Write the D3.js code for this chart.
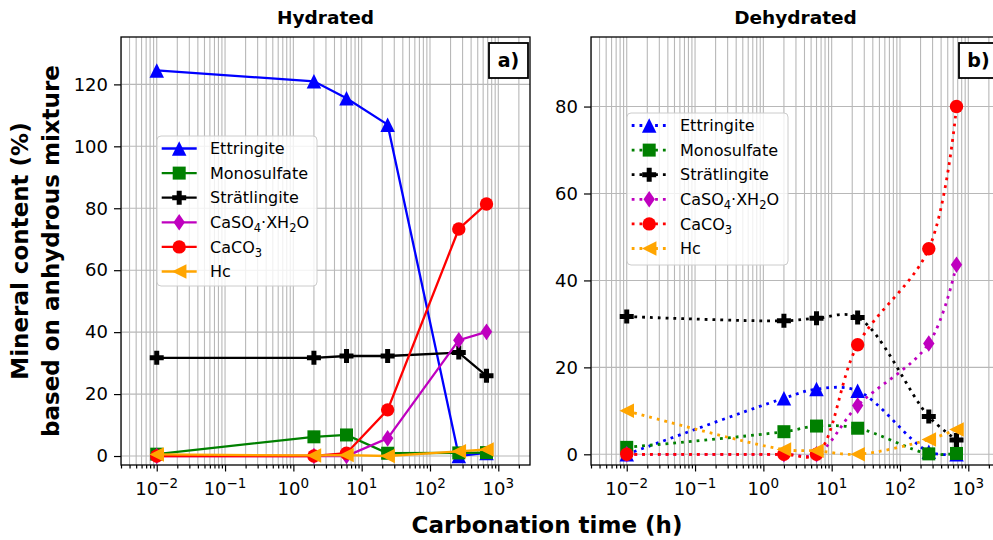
<!DOCTYPE html>
<html><head><meta charset="utf-8">
<script src="https://cdnjs.cloudflare.com/ajax/libs/d3/7.8.5/d3.min.js"></script>
<style>body{margin:0;background:#fff;} svg{display:block;font-family:"DejaVu Sans",sans-serif;}</style>
</head><body><svg id="c" width="993" height="540"></svg>
<script>
// ---------------- data ----------------
const times = [0.01, 2, 6, 24, 264, 672];
const seriesNames = ["Ettringite", "Monosulfate", "Strätlingite", "CaSO4·XH2O", "CaCO3", "Hc"];
const seriesColors = ["#0000ff", "#008000", "#000000", "#bf00bf", "#ff0000", "#ffa500"];
const seriesMarkers = ["triangleUp", "square", "plus", "thinDiamond", "circle", "triangleLeft"];

const hydEttringite   = [124.5, 121.0, 115.5, 107.0, 0.0, 1.0];
const hydMonosulfate  = [0.6, 6.2, 6.8, 0.9, 1.0, 1.1];
const hydStratlingite = [31.7, 31.7, 32.3, 32.3, 33.4, 25.9];
const hydCaSO4        = [0.0, 0.0, 0.0, 5.7, 37.4, 40.1];
const hydCaCO3        = [0.0, 0.0, 0.9, 14.9, 73.3, 81.4];
const hydHc           = [0.5, 0.2, 0.3, 0.0, 1.5, 2.1];

const dehEttringite   = [0.0, 12.9, 15.0, 14.6, 0.6, 0.0];
const dehMonosulfate  = [1.6, 5.2, 6.5, 6.0, 0.1, 0.2];
const dehStratlingite = [31.7, 30.7, 31.3, 31.5, 8.7, 3.3];
const dehCaSO4        = [0.0, 0.0, 0.0, 11.2, 25.5, 43.6];
const dehCaCO3        = [0.0, 0.0, 0.0, 25.2, 47.3, 80.0];
const dehHc           = [10.0, 1.1, 0.8, 0.0, 3.4, 5.7];

const yTicksHyd = [0, 20, 40, 60, 80, 100, 120];
const yTicksDeh = [0, 20, 40, 60, 80];
const xTickExponents = [-2, -1, 0, 1, 2, 3];
const panelTitles = ["Hydrated", "Dehydrated"];
const panelTags = ["a)", "b)"];
const xLabel = "Carbonation time (h)";
const yLabelLines = ["Mineral content (%)", "based on anhydrous mixture"];

// ---------------- layout ----------------
const svg = d3.select("#c");
const TOP = 37, BOTTOM = 465, PW = 409;
const xDomain = [Math.pow(10, -2.523), Math.pow(10, 3.464)];

const panels = [
  {x0: 121, yDomain: [-2.9, 135.3], yTicks: yTicksHyd,
   data: [hydEttringite, hydMonosulfate, hydStratlingite, hydCaSO4, hydCaCO3, hydHc],
   dotted: false, legend: {x: 157, y: 136, w: 160, h: 150}},
  {x0: 591, yDomain: [-2.46, 96], yTicks: yTicksDeh,
   data: [dehEttringite, dehMonosulfate, dehStratlingite, dehCaSO4, dehCaCO3, dehHc],
   dotted: true, legend: {x: 627, y: 113, w: 161, h: 152}}
];

function markerPath(type) {
  switch (type) {
    case "triangleUp": { const s = 14.5; return `M0,${-s/2}L${s/2},${s/2}L${-s/2},${s/2}Z`; }
    case "triangleLeft": { const s = 14.5; return `M${-s/2},0L${s/2},${-s/2}L${s/2},${s/2}Z`; }
    case "square": { const s = 13; return `M${-s/2},${-s/2}h${s}v${s}h${-s}Z`; }
    case "plus": { const a = 7, b = 2.5;
      return `M${-b},${-a}H${b}V${-b}H${a}V${b}H${b}V${a}H${-b}V${b}H${-a}V${-b}H${-b}Z`; }
    case "thinDiamond": return "M0,-8.3L5.7,0L0,8.3L-5.7,0Z";
    case "circle": { const r = 6.7; return `M${r},0A${r},${r} 0 1,1 ${-r},0A${r},${r} 0 1,1 ${r},0Z`; }
  }
}

function richLabel(sel, s) {
  const parts = s.match(/\d+|[^\d]+/g);
  let shifted = false;
  parts.forEach(pt => {
    const isNum = /^\d+$/.test(pt);
    const t = sel.append("tspan").text(pt);
    if (isNum && !shifted) { t.attr("dy", 4).attr("font-size", "11.5px"); shifted = true; }
    else if (!isNum && shifted) { t.attr("dy", -4); shifted = false; }
  });
}

const defs = svg.append("defs");

panels.forEach((p, pi) => {
  const x = d3.scaleLog().domain(xDomain).range([p.x0, p.x0 + PW]);
  const y = d3.scaleLinear().domain(p.yDomain).range([BOTTOM, TOP]);
  const clipId = "clip" + pi;
  defs.append("clipPath").attr("id", clipId).append("rect")
    .attr("x", p.x0).attr("y", TOP).attr("width", PW).attr("height", BOTTOM - TOP);

  const gridX = [];
  for (let e = -3; e <= 3; e++) for (let k = 1; k <= 9; k++) {
    const v = k * Math.pow(10, e);
    if (v >= xDomain[0] && v <= xDomain[1]) gridX.push(v);
  }
  const grid = svg.append("g").attr("clip-path", `url(#${clipId})`);
  grid.selectAll("line.gx").data(gridX).join("line").attr("class", "gx")
    .attr("x1", d => x(d)).attr("x2", d => x(d)).attr("y1", TOP).attr("y2", BOTTOM)
    .attr("stroke", "#b8b8b8").attr("stroke-width", 1.1);
  grid.selectAll("line.gy").data(p.yTicks).join("line").attr("class", "gy")
    .attr("x1", p.x0).attr("x2", p.x0 + PW).attr("y1", d => y(d)).attr("y2", d => y(d))
    .attr("stroke", "#b8b8b8").attr("stroke-width", 1.1);

  const plot = svg.append("g").attr("clip-path", `url(#${clipId})`);
  const line = d3.line().x(d => x(d[0])).y(d => y(d[1]))
    .curve(p.dotted ? d3.curveCatmullRom.alpha(0.5) : d3.curveLinear);
  p.data.forEach((vals, si) => {
    const pts = times.map((t, i) => [t, vals[i]]);
    const path = plot.append("path").attr("d", line(pts)).attr("fill", "none")
      .attr("stroke", seriesColors[si]);
    if (p.dotted) path.attr("stroke-width", 2.8).attr("stroke-dasharray", "2.8,5");
    else path.attr("stroke-width", 2.3);
    plot.selectAll(null).data(pts).join("path")
      .attr("d", markerPath(seriesMarkers[si]))
      .attr("transform", d => `translate(${x(d[0])},${y(d[1])})`)
      .attr("fill", seriesColors[si]);
  });

  svg.append("rect").attr("x", p.x0).attr("y", TOP).attr("width", PW).attr("height", BOTTOM - TOP)
    .attr("fill", "none").attr("stroke", "#000").attr("stroke-width", 1.3);

  const decades = xTickExponents.map(e => Math.pow(10, e));
  const minors = gridX.filter(v => !decades.some(d => Math.abs(d - v) / d < 1e-9));
  const xAxisMajor = d3.axisBottom(x).tickValues(decades).tickSize(6.5).tickSizeOuter(0).tickFormat("");
  const xAxisMinor = d3.axisBottom(x).tickValues(minors).tickSize(3.5).tickSizeOuter(0).tickFormat("");
  [xAxisMajor, xAxisMinor].forEach(ax => {
    const g = svg.append("g").attr("transform", `translate(0,${BOTTOM})`).call(ax);
    g.select(".domain").remove();
    g.selectAll(".tick line").attr("stroke", "#000").attr("stroke-width", 1.2);
  });
  xTickExponents.forEach(e => {
    const t = svg.append("text").attr("x", x(Math.pow(10, e))).attr("y", 495)
      .attr("text-anchor", "middle").attr("font-size", "18px").attr("fill", "#000");
    t.append("tspan").text("10");
    t.append("tspan").attr("dy", -7.5).attr("font-size", "13.5px").text((e < 0 ? "\u2212" : "") + Math.abs(e));
  });

  const yAxis = d3.axisLeft(y).tickValues(p.yTicks).tickSize(7).tickPadding(6).tickSizeOuter(0)
    .tickFormat(d3.format("d"));
  const gy = svg.append("g").attr("transform", `translate(${p.x0},0)`).call(yAxis);
  gy.select(".domain").remove();
  gy.selectAll(".tick line").attr("stroke", "#000").attr("stroke-width", 1.2);
  gy.selectAll(".tick text").attr("font-size", "18px").attr("fill", "#000")
    .attr("font-family", "DejaVu Sans");

  svg.append("text").attr("x", p.x0 + PW / 2).attr("y", 24).attr("text-anchor", "middle")
    .attr("font-size", "18.5px").attr("font-weight", "bold").text(panelTitles[pi]);

  const bx = p.x0 + 368, by = 43;
  svg.append("rect").attr("x", bx).attr("y", by).attr("width", 39).attr("height", 35)
    .attr("fill", "#fff").attr("stroke", "#000").attr("stroke-width", 1.8);
  svg.append("text").attr("x", bx + 19.5).attr("y", by + 17.5).attr("dy", "0.36em")
    .attr("text-anchor", "middle").attr("font-size", "19px").attr("font-weight", "bold").text(panelTags[pi]);

  const L = p.legend;
  const lg = svg.append("g");
  lg.append("rect").attr("x", L.x).attr("y", L.y).attr("width", L.w).attr("height", L.h)
    .attr("rx", 4).attr("fill", "#fff").attr("fill-opacity", 0.8)
    .attr("stroke", "#cccccc").attr("stroke-width", 1);
  seriesNames.forEach((name, si) => {
    const cy = L.y + 12.5 + si * 24.6;
    const hl = lg.append("line").attr("x1", L.x + 4.7).attr("x2", L.x + 39.7)
      .attr("y1", cy).attr("y2", cy).attr("stroke", seriesColors[si]);
    if (p.dotted) hl.attr("stroke-width", 2.8).attr("stroke-dasharray", "2.8,5");
    else hl.attr("stroke-width", 2.3);
    lg.append("path").attr("d", markerPath(seriesMarkers[si]))
      .attr("transform", `translate(${L.x + 22.2},${cy})`).attr("fill", seriesColors[si]);
    const t = lg.append("text").attr("x", L.x + 53).attr("y", cy).attr("dy", "0.36em")
      .attr("font-size", "16px").attr("fill", "#000");
    richLabel(t, name);
  });
});

svg.append("text").attr("x", 547).attr("y", 533).attr("text-anchor", "middle")
  .attr("font-size", "23px").attr("font-weight", "bold").text(xLabel);
yLabelLines.forEach((s, i) => {
  svg.append("text").attr("transform", `translate(${28 + i * 31},251) rotate(-90)`)
    .attr("text-anchor", "middle").attr("font-size", "23px").attr("font-weight", "bold").text(s);
});
</script></body></html>
